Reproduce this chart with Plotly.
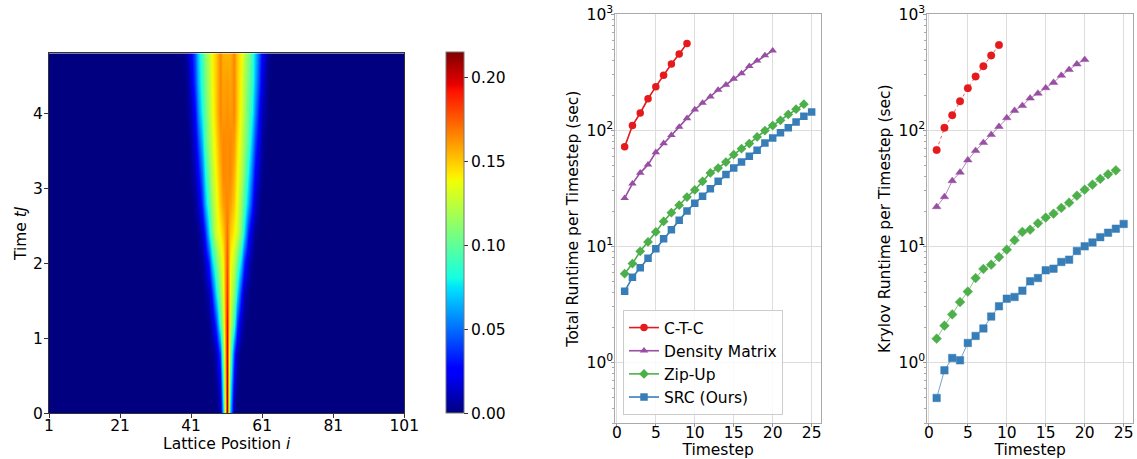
import numpy as np
import plotly.graph_objects as go

# ---------------- data ----------------
# Heatmap: lattice sites and time rows; profiles give the value at distance d=|i-51| from the centre site
lattice_sites = list(range(1, 102))
centre_site = 51
heat_times = [0.0, 0.4, 0.8, 1.2, 1.6, 2.0, 2.4, 2.8, 3.2, 3.6, 4.0, 4.4, 4.8]
heat_profiles = [
    [0.210, 0.070, 0.005],
    [0.205, 0.090, 0.020, 0.003],
    [0.200, 0.110, 0.040, 0.010],
    [0.195, 0.125, 0.090, 0.040, 0.012, 0.003],
    [0.185, 0.135, 0.110, 0.075, 0.035, 0.010, 0.003],
    [0.178, 0.140, 0.125, 0.100, 0.070, 0.035, 0.012, 0.003],
    [0.170, 0.150, 0.140, 0.130, 0.105, 0.075, 0.035, 0.012, 0.003],
    [0.165, 0.160, 0.150, 0.135, 0.115, 0.095, 0.065, 0.035, 0.012, 0.004],
    [0.163, 0.165, 0.155, 0.140, 0.125, 0.105, 0.080, 0.050, 0.025, 0.010, 0.003],
    [0.163, 0.165, 0.160, 0.145, 0.130, 0.115, 0.095, 0.065, 0.040, 0.018, 0.006],
    [0.163, 0.160, 0.165, 0.150, 0.135, 0.120, 0.100, 0.080, 0.055, 0.028, 0.010, 0.004],
    [0.160, 0.158, 0.165, 0.150, 0.138, 0.122, 0.105, 0.088, 0.065, 0.040, 0.018, 0.006],
    [0.155, 0.155, 0.165, 0.150, 0.140, 0.125, 0.110, 0.090, 0.070, 0.045, 0.025, 0.010, 0.003],
]

series_names = ["C-T-C", "Density Matrix", "Zip-Up", "SRC (Ours)"]
ctc_steps = list(range(1, 10))
dm_steps = list(range(1, 21))
zip_steps = list(range(1, 25))
src_steps = list(range(1, 26))

total_ctc = [72, 110, 141, 187, 238, 298, 373, 455, 559]
total_dm = [26.0, 34.7, 43.0, 50.6, 64.7, 77.2, 90.8, 107, 127, 151, 172, 195, 223, 247,
            278, 309, 357, 398, 442, 486]
total_zip = [5.81, 7.10, 9.06, 10.9, 13.3, 16.4, 19.5, 22.6, 26.6, 30.6, 36.3, 42.9, 47.3,
             53.3, 61.7, 69.5, 76.8, 87.6, 99.4, 110, 122, 137, 152, 168]
total_src = [4.09, 5.40, 6.53, 7.88, 9.55, 11.6, 13.9, 16.8, 20.2, 23.5, 27.0, 31.4, 36.3,
             41.5, 47.3, 53.3, 59.7, 67.3, 77.8, 85.9, 95.5, 105, 118, 132, 144]

krylov_ctc = [67.7, 105, 135, 178, 231, 291, 357, 442, 543]
krylov_dm = [21.9, 26.7, 36.7, 43.4, 55.4, 66.7, 78.2, 91.7, 107.6, 128, 148, 163, 189, 208,
             232, 258, 297, 333, 372, 406]
krylov_zip = [1.60, 2.07, 2.59, 3.31, 4.07, 5.33, 6.38, 6.95, 8.09, 9.36, 11.3, 13.3, 13.9,
              15.8, 17.7, 19.1, 21.4, 23.8, 27.3, 30.8, 34.0, 38.1, 41.8, 45.2]
krylov_src = [0.493, 0.853, 1.09, 1.04, 1.47, 1.69, 1.96, 2.48, 3.04, 3.54, 3.66, 4.15, 4.99,
              5.33, 6.21, 6.42, 7.33, 7.68, 9.12, 10.0, 10.8, 12.0, 13.1, 14.2, 15.6]

heat_xticks = [1, 21, 41, 61, 81, 101]
heat_yticks = [0, 1, 2, 3, 4]
cbar_ticks = [0.00, 0.05, 0.10, 0.15, 0.20]
step_ticks = [0, 5, 10, 15, 20, 25]
log_ticks = [1, 10, 100, 1000]
log_ticktext = ["10<sup>0</sup>", "10<sup>1</sup>", "10<sup>2</sup>", "10<sup>3</sup>"]

# ---------------- styling helpers ----------------
W, H = 1137, 459
OFF = 0  # page body margin is removed below via post_script
FONT = "DejaVu Sans"
FS = 15.5

def X(px):
    return (px - OFF) / W

def Y(py):
    return 1 - (py - OFF) / H

# matplotlib 'jet' colour map
jet_r = [(0, 0), (0.35, 0), (0.66, 1), (0.89, 1), (1, 0.5)]
jet_g = [(0, 0), (0.125, 0), (0.375, 1), (0.64, 1), (0.91, 0), (1, 0)]
jet_b = [(0, 0.5), (0.11, 1), (0.34, 1), (0.65, 0), (1, 0)]
stops = sorted(set([p for p, _ in jet_r + jet_g + jet_b]))
def chan(seg, s):
    return float(np.interp(s, [p for p, _ in seg], [v for _, v in seg]))
jet = [[s, "rgb(%d,%d,%d)" % (round(255 * chan(jet_r, s)), round(255 * chan(jet_g, s)),
                               round(255 * chan(jet_b, s)))] for s in stops]

# build heatmap table from the profiles
z = []
for prof in heat_profiles:
    row = []
    for i in lattice_sites:
        d = abs(i - centre_site)
        row.append(prof[d] if d < len(prof) else 0.0)
    z.append(row)

colors = ["#e41a1c", "#984ea3", "#4daf4a", "#377eb8"]
symbols = ["circle", "triangle-up", "diamond", "square"]

def rgba(hexc, a):
    h = hexc.lstrip("#")
    return "rgba(%d,%d,%d,%.2f)" % (int(h[0:2], 16), int(h[2:4], 16), int(h[4:6], 16), a)

fig = go.Figure()

fig.add_trace(go.Heatmap(
    x=lattice_sites, y=heat_times, z=z, colorscale=jet, zmin=0, zmax=0.215,
    zsmooth="best", xaxis="x", yaxis="y", showscale=True,
    colorbar=dict(
        x=X(446), xanchor="left", xpad=0, y=Y(413.3), yanchor="bottom", ypad=0,
        len=360.5 / H, lenmode="fraction", thickness=18, thicknessmode="pixels",
        outlinewidth=1, outlinecolor="#777",
        tickvals=cbar_ticks, ticktext=["%.2f" % v for v in cbar_ticks],
        ticks="outside", ticklen=4, tickcolor="#333",
        tickfont=dict(family=FONT, size=FS, color="black"),
    ),
))

mid_sets = [(ctc_steps, total_ctc), (dm_steps, total_dm), (zip_steps, total_zip), (src_steps, total_src)]
right_sets = [(ctc_steps, krylov_ctc), (dm_steps, krylov_dm), (zip_steps, krylov_zip), (src_steps, krylov_src)]

for k, (xs, ys) in enumerate(mid_sets):
    fig.add_trace(go.Scatter(
        x=xs, y=ys, name=series_names[k], mode="lines+markers",
        line=dict(color=colors[k], width=1.6),
        marker=dict(symbol=symbols[k], size=7.5, color=colors[k], line=dict(width=0)),
        xaxis="x2", yaxis="y2", showlegend=True,
    ))

for k, (xs, ys) in enumerate(right_sets):
    fig.add_trace(go.Scatter(
        x=xs, y=ys, name=series_names[k], mode="lines+markers",
        line=dict(color=rgba(colors[k], 0.7), width=1, dash="dot" if k == 0 else "solid"),
        marker=dict(symbol=symbols[k], size=7.5, color=colors[k],
                    line=dict(width=0.8, color=rgba(colors[k], 0.6))),
        xaxis="x3", yaxis="y3", showlegend=False,
    ))

tickfont = dict(family=FONT, size=FS, color="black")
titlefont = dict(family=FONT, size=FS, color="black")
minor_vals = [m * 10 ** e for e in range(-1, 3) for m in range(2, 10) if 0.3 <= m * 10 ** e <= 1000]

def log_axis(title, anchor):
    return dict(
        type="log", range=[np.log10(0.3), 3], domain=[Y(423), Y(14.3)], anchor=anchor,
        tickvals=log_ticks, ticktext=log_ticktext, ticks="outside", ticklen=3, tickcolor="#999",
        ticklabelstandoff=-5, ticklabeloverflow="allow",
        showgrid=True, gridcolor="#dddddd", gridwidth=1, zeroline=False,
        showline=True, linecolor="#aaaaaa", linewidth=1, mirror=True, automargin=False,
        minor=dict(tickvals=minor_vals, ticks="outside", ticklen=2, tickcolor="#aaaaaa", showgrid=False),
        tickfont=tickfont, title=dict(text=title, font=titlefont, standoff=4),
    )

def step_axis(domain, anchor):
    return dict(
        range=[-0.2, 26.2], domain=domain, anchor=anchor, tickvals=step_ticks,
        ticks="outside", ticklen=3, tickcolor="#999", ticklabelstandoff=-8,
        ticklabeloverflow="allow",
        showgrid=True, gridcolor="#dddddd", gridwidth=1, zeroline=False,
        showline=True, linecolor="#aaaaaa", linewidth=1, mirror=True, automargin=False,
        tickfont=tickfont, title=dict(text="Timestep", font=titlefont, standoff=3),
    )

fig.update_layout(
    width=W, height=H, margin=dict(l=0, r=0, t=0, b=0, autoexpand=False),
    paper_bgcolor="white", plot_bgcolor="white",
    font=dict(family=FONT, size=FS, color="black"),
    xaxis=dict(
        domain=[X(49), X(404.3)], range=[1, 101], anchor="y", tickvals=heat_xticks,
        ticks="outside", ticklen=4, tickcolor="#333", ticklabelstandoff=-6,
        ticklabeloverflow="allow",
        showgrid=False, zeroline=False,
        showline=True, linecolor="#333", linewidth=1, mirror=True, automargin=False,
        tickfont=tickfont,
        title=dict(text="Lattice Position <i>i</i>", font=titlefont, standoff=2),
    ),
    yaxis=dict(
        domain=[Y(413.3), Y(53.3)], range=[0, 4.8], anchor="x", tickvals=heat_yticks,
        ticks="outside", ticklen=4, tickcolor="#333", ticklabelstandoff=-2,
        showgrid=False, zeroline=False,
        showline=True, linecolor="#333", linewidth=1, mirror=True, automargin=False,
        tickfont=tickfont,
        title=dict(text="Time <i>tJ</i>", font=titlefont, standoff=2),
    ),
    xaxis2=step_axis([X(615.3), X(821)], "y2"),
    yaxis2=log_axis("Total Runtime per Timestep (sec)", "x2"),
    xaxis3=step_axis([X(927.3), X(1133)], "y3"),
    yaxis3=log_axis("Krylov Runtime per Timestep (sec)", "x3"),
    legend=dict(
        x=X(623), y=Y(415), xanchor="left", yanchor="bottom",
        bgcolor="rgba(255,255,255,0.85)", bordercolor="#cccccc", borderwidth=1,
        font=dict(family=FONT, size=FS, color="black"), itemwidth=30,
    ),
)

fig.write_html("out.html", config={"displayModeBar": False},
               post_script="document.body.style.margin='0px';")
